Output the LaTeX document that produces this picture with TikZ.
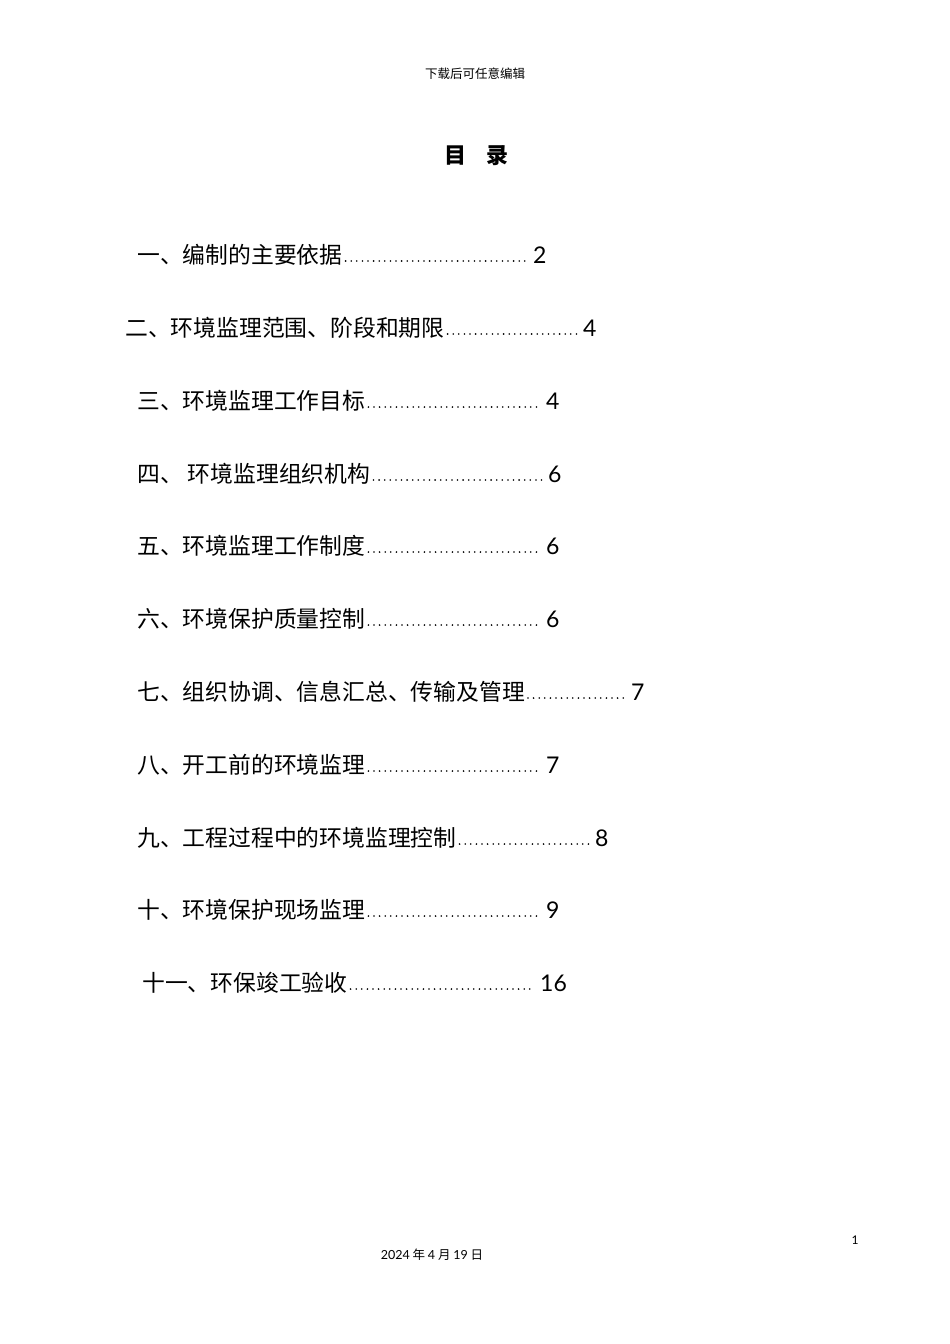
\documentclass[tikz,border=0pt]{standalone}
\usepackage{fontspec}
\setmainfont{Noto Sans CJK SC}
\newfontfamily\numf{Lato}
\begin{document}
\begin{tikzpicture}[x=1pt,y=-1pt,
  entry/.style={anchor=west,inner sep=0pt,font=\fontsize{22.8}{23}\selectfont},
  pnum/.style={anchor=west,inner sep=0pt,font=\numf\fontsize{23}{23}\selectfont},
  leader/.style={line width=1.8pt,line cap=round,dash pattern=on 0pt off 5.6pt}]
\useasboundingbox[fill=white] (0,0) rectangle (950,1344);
\node[font=\fontsize{12.5}{12.5}\selectfont] (hdr) at (475,74) {下载后可任意编辑};
\node[font=\fontsize{22}{22}\selectfont\bfseries] (title) at (476,156) {目\hspace{20pt}录};
\foreach \i/\t/\x/\y/\n/\nx in {
 1/一、编制的主要依据/137/255/2/533,
 2/二、环境监理范围、阶段和期限/125/328/4/583,
 3/三、环境监理工作目标/137/401/4/546,
 4/四、\ 环境监理组织机构/137/474/6/548,
 5/五、环境监理工作制度/137/546/6/546,
 6/六、环境保护质量控制/137/619/6/546,
 7/七、组织协调、信息汇总、传输及管理/137/692/7/631,
 8/八、开工前的环境监理/137/765/7/546,
 9/九、工程过程中的环境监理控制/137/838/8/595,
 10/十、环境保护现场监理/137/910/9/546,
 11/十一、环保竣工验收/142/983/16/540}{
  \node[entry] (e\i) at (\x,\y) {\t};
  \node[pnum] (n\i) at (\nx,\y) {\n};
  \draw[leader] ([xshift=3pt,yshift=-6pt]e\i.east) -- ([xshift=-5pt,yshift=-6pt]n\i.west);
}
\node[font=\numf\fontsize{12}{12}\selectfont] (pg) at (855,1240) {1};
\node[font=\fontsize{12.5}{12.5}\selectfont] (date) at (432,1255) {{\numf 2024} 年 {\numf 4} 月 {\numf 19} 日};
\end{tikzpicture}
\end{document}
